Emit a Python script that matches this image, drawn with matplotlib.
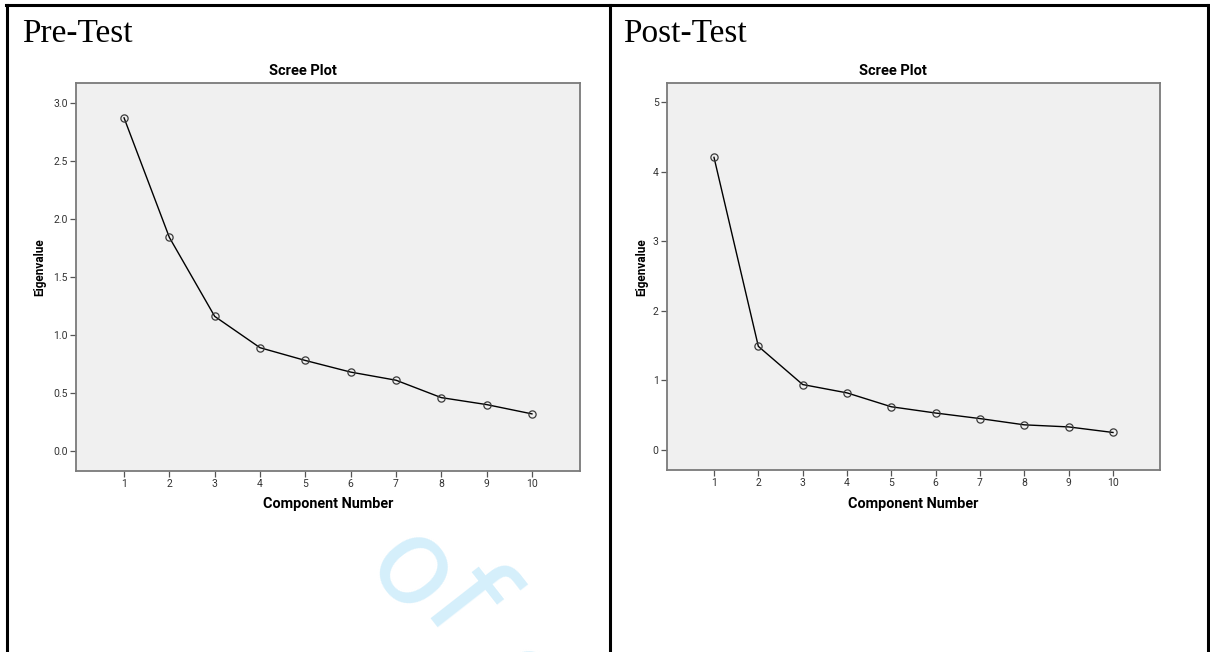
import matplotlib
matplotlib.use("Agg")
import matplotlib.pyplot as plt
from matplotlib.lines import Line2D

# scree plot data
components = [1, 2, 3, 4, 5, 6, 7, 8, 9, 10]
pre_eigen = [2.87, 1.84, 1.16, 0.89, 0.78, 0.68, 0.61, 0.46, 0.40, 0.32]
post_eigen = [4.21, 1.49, 0.94, 0.82, 0.62, 0.53, 0.45, 0.36, 0.33, 0.25]

pre_ticks = [0.0, 0.5, 1.0, 1.5, 2.0, 2.5, 3.0]
pre_ticklabels = ["0.0", "0.5", "1.0", "1.5", "2.0", "2.5", "3.0"]
post_ticks = [0, 1, 2, 3, 4, 5]
post_ticklabels = ["0", "1", "2", "3", "4", "5"]

W, H = 1210, 652
fig = plt.figure(figsize=(W / 100, H / 100), dpi=100)


def fx(px):
    return px / W


def fy(py):
    return 1 - py / H


# light blue watermark fragments, behind everything
wm = "#d5effb"
fig.text(fx(410), fy(574), "o", rotation=-52, ha="center", va="center",
         fontsize=86, color=wm, family="DejaVu Sans", rotation_mode="anchor", zorder=0)
fig.text(fx(462), fy(604), "f", rotation=-52, ha="center", va="center",
         fontsize=92, color=wm, family="DejaVu Sans", rotation_mode="anchor", zorder=0)
fig.text(fx(520), fy(688), "o", rotation=-52, ha="center", va="center",
         fontsize=86, color=wm, family="DejaVu Sans", rotation_mode="anchor", zorder=0)

# table borders
for xs, ys in [([6, 1208], [5, 5]), ([7, 7], [5, 652]),
               ([610, 610], [5, 652]), ([1208, 1208], [5, 652])]:
    fig.add_artist(Line2D([fx(x) for x in xs], [fy(y) for y in ys],
                          color="black", lw=2.2, transform=fig.transFigure))

fig.text(fx(22), fy(42), "Pre-Test", family="Liberation Serif", fontsize=24,
         ha="left", va="baseline")
fig.text(fx(623), fy(42), "Post-Test", family="Liberation Serif", fontsize=24,
         ha="left", va="baseline")

panels = [
    # left, right, top, bottom (px), data, ylim, ticks, labels, title x, ylabel x
    (76, 580, 83, 471, pre_eigen, (-0.172, 3.17), pre_ticks, pre_ticklabels, 303, 40),
    (667, 1160, 83, 470, post_eigen, (-0.29, 5.28), post_ticks, post_ticklabels, 893, 642),
]

for l, r, t, b, vals, ylim, yt, ytl, tx, lx in panels:
    ax = fig.add_axes([fx(l), fy(b), fx(r) - fx(l), fy(t) - fy(b)])
    ax.set_facecolor("#f0f0f0")
    ax.plot(components, vals, color="black", lw=1.0, zorder=2)
    ax.plot(components, vals, ls="none", marker="o", ms=5.2, mfc="none",
            mec="#3a3a3a", mew=0.9, zorder=3)
    ax.set_xlim(-0.06, 11.06)
    ax.set_ylim(*ylim)
    ax.set_xticks(components)
    ax.set_xticklabels([str(c) for c in components])
    ax.set_yticks(yt)
    ax.set_yticklabels(ytl)
    for s in ax.spines.values():
        s.set_color("#7a7a7a")
        s.set_linewidth(1.3)
    ax.tick_params(axis="both", direction="out", length=4.5, width=0.9,
                   color="#555555", labelsize=7.5, labelcolor="#333333", pad=1.5)
    for lab in ax.get_xticklabels() + ax.get_yticklabels():
        lab.set_family("Roboto")

    fig.text(fx(tx), fy(71), "Scree Plot", family="Roboto", fontweight="bold",
             fontsize=10.5, ha="center", va="center")
    fig.text(fx((l + r) / 2), fy(504), "Component Number", family="Roboto",
             fontweight="bold", fontsize=10.4, ha="center", va="center")
    fig.text(fx(lx), fy(267), "Eigenvalue", family="Roboto", fontweight="bold",
             fontsize=8.5, rotation=90, ha="center", va="center")

fig.savefig("out.png", dpi=100)
